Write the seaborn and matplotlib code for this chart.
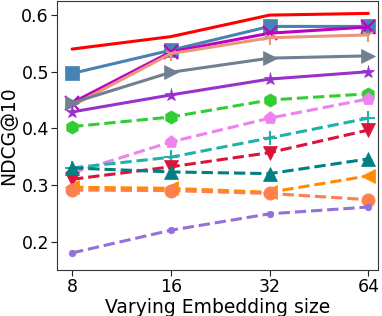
import matplotlib
matplotlib.use("Agg")
import matplotlib.pyplot as plt
import pandas as pd
import seaborn as sns

sizes = ["8", "16", "32", "64"]

series_names = ["m1", "m2", "m3", "m4", "m5", "m6", "m7", "m8", "m9", "m10", "m11", "m12", "m13", "m14"]
ndcg = {
    "m1": [0.540, 0.562, 0.600, 0.603],
    "m2": [0.497, 0.538, 0.580, 0.580],
    "m3": [0.445, 0.535, 0.568, 0.579],
    "m4": [0.440, 0.532, 0.560, 0.565],
    "m5": [0.445, 0.499, 0.524, 0.528],
    "m6": [0.429, 0.459, 0.487, 0.500],
    "m7": [0.403, 0.420, 0.450, 0.461],
    "m8": [0.321, 0.376, 0.418, 0.452],
    "m9": [0.330, 0.349, 0.383, 0.418],
    "m10": [0.310, 0.332, 0.357, 0.397],
    "m11": [0.330, 0.323, 0.320, 0.346],
    "m12": [0.296, 0.294, 0.287, 0.316],
    "m13": [0.291, 0.290, 0.285, 0.274],
    "m14": [0.180, 0.220, 0.249, 0.261],
}

colors = ["red", "steelblue", "m", "darksalmon", "slategray", "darkorchid", "limegreen",
          "violet", "lightseagreen", "crimson", "teal", "darkorange", "coral", "mediumpurple"]
markers = [None, "s", "x", "1", ">", "*", "h", "p", "+", "v", "^", "<", "o", "."]
styles = ["-"] * 6 + ["--"] * 8

sns.set_style("ticks")
plt.rcParams["font.family"] = ["DejaVu Sans"]

fig, ax = plt.subplots(figsize=(3.82, 3.16), dpi=100)

for i, name in enumerate(series_names):
    df = pd.DataFrame({"x": range(len(sizes)), "y": ndcg[name]})
    sns.lineplot(data=df, x="x", y="y", ax=ax, color=colors[i], marker=markers[i],
                 linestyle=styles[i], linewidth=2.2, markersize=9.5,
                 markeredgewidth=1.5 if markers[i] in ("x", "1", "+") else 0.5,
                 markeredgecolor=colors[i])

ax.set_xticks(range(len(sizes)))
ax.set_xticklabels(sizes)
ax.set_xlim(-0.15, 3.1)
ax.set_ylim(0.15, 0.625)
ax.set_yticks([0.2, 0.3, 0.4, 0.5, 0.6])
ax.tick_params(labelsize=12.5, colors="#222222", labelcolor="black", length=4, pad=2)
ax.set_xlabel("Varying Embedding size", fontsize=13.5, labelpad=1, color="black")
ax.set_ylabel("NDCG@10", fontsize=13.5, labelpad=2, color="black")
for s in ax.spines.values():
    s.set_color("#333333")

fig.subplots_adjust(left=0.15, right=0.99, top=0.997, bottom=0.146)
fig.savefig("out.png")
